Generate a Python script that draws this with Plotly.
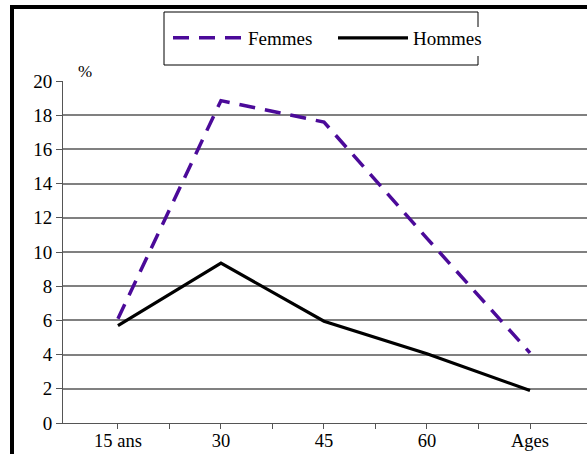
import plotly.graph_objects as go

# ---- data ----
ages_x = [15, 30, 45, 60, 75]
tick_labels = ["15 ans", "30", "45", "60", "Ages"]
femmes = [6.1, 18.85, 17.6, 10.8, 4.1]
hommes = [5.7, 9.35, 5.95, 4.05, 1.9]

W, H = 587, 454
ML, MR, MT, MB = 63, 0, 81, 31
PW, PH = W - ML - MR, H - MT - MB


def px(x):
    return (x - ML) / PW


def py(y):
    return (H - MB - y) / PH


# major ticks with labels plus unlabeled ticks halfway between
tv, tt = [], []
for i, (v, lab) in enumerate(zip(ages_x, tick_labels)):
    tv.append(v)
    tt.append(lab)
    if i + 1 < len(ages_x):
        tv.append((v + ages_x[i + 1]) / 2)
        tt.append("")

FONT = "Liberation Serif, Times New Roman, serif"
fig = go.Figure()
fig.add_trace(go.Scatter(x=ages_x, y=femmes, mode="lines", name="Femmes",
                         line=dict(color="#4B0A99", width=3.5, dash="16px,10px")))
fig.add_trace(go.Scatter(x=ages_x, y=hommes, mode="lines", name="Hommes",
                         line=dict(color="black", width=3.2)))

shapes = []
# thick frame (top and left)
shapes.append(dict(type="line", xref="paper", yref="paper", x0=px(12), x1=px(600),
                   y0=py(7), y1=py(7), line=dict(color="black", width=4)))
shapes.append(dict(type="line", xref="paper", yref="paper", x0=px(12), x1=px(12),
                   y0=py(5), y1=py(470), line=dict(color="black", width=4)))
# legend box
lb = dict(color="black", width=1)
L, R, T, B = 164, 478, 12, 65
for (x0, y0, x1, y1) in [(L, T, R, T), (L, B, R, B), (L, T, L, B), (R, T, R, 27), (R, 56, R, B)]:
    shapes.append(dict(type="line", xref="paper", yref="paper", x0=px(x0), x1=px(x1),
                       y0=py(y0), y1=py(y1), line=lb))

fig.update_layout(
    width=W, height=H,
    margin=dict(l=ML, r=MR, t=MT, b=MB, autoexpand=False),
    paper_bgcolor="white", plot_bgcolor="white",
    font=dict(family=FONT, size=19, color="black"),
    showlegend=True,
    legend=dict(orientation="h", x=px(168), y=py(38), xanchor="left", yanchor="middle",
                bgcolor="rgba(0,0,0,0)", font=dict(family=FONT, size=19, color="black"),
                itemwidth=70, entrywidth=80, tracegroupgap=0),
    shapes=shapes,
    annotations=[dict(text="%", xref="paper", yref="paper", x=px(85), y=py(72),
                      xanchor="center", yanchor="middle",
                      showarrow=False, font=dict(family=FONT, size=17, color="black"))],
    xaxis=dict(range=[7.0, 83.3], tickmode="array", tickvals=tv, ticktext=tt,
               showgrid=False, zeroline=False, showline=True, linecolor="#555",
               linewidth=1, ticks="outside", ticklen=5, tickcolor="#555",
               ticklabelstandoff=-4,
               tickfont=dict(family=FONT, size=18.5), fixedrange=True, automargin=False),
    yaxis=dict(range=[0, 20], dtick=2, tick0=0, showgrid=True, gridcolor="#808080",
               gridwidth=1.5, zeroline=False, showline=True, linecolor="#555",
               linewidth=1, ticks="outside", ticklen=6, tickcolor="#555",
               tickfont=dict(family=FONT, size=19), fixedrange=True, automargin=False),
)

fig.write_html("out.html")
